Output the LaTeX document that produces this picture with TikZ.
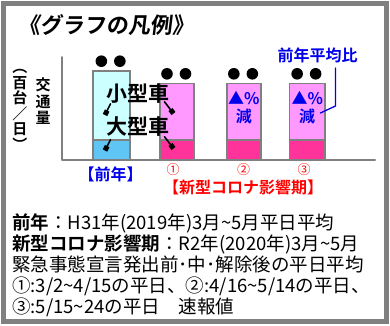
\documentclass[tikz,border=0pt]{standalone}
\usepackage{fontspec}
\setmainfont{Noto Sans CJK JP}[BoldFont={* Bold}]
\newfontfamily\titlefont{Noto Sans CJK JP Bold}[FakeSlant=0.12]
\usetikzlibrary{arrows.meta}
\definecolor{framegray}{RGB}{128,128,128}
\definecolor{paleblue}{RGB}{204,255,255}
\definecolor{midblue}{RGB}{95,197,245}
\definecolor{palepink}{RGB}{255,153,255}
\definecolor{hotpink}{RGB}{255,51,153}
\definecolor{noteblue}{RGB}{0,0,235}
\definecolor{notered}{RGB}{255,0,0}
\newcommand\fsz[1]{\fontsize{#1}{#1}\selectfont}
\tikzset{
  barbox/.style={draw=framegray, line width=1.6pt, line join=miter},
  bigword/.style={font=\bfseries\fsz{21}, inner sep=0pt},
  leader/.style={line width=1.6pt, -{Square[length=5pt,width=5pt]}},
  ratiotext/.style={font=\bfseries\fsz{16}, text=noteblue, inner sep=1pt},
  catlabel/.style={font=\bfseries\fsz{16}},
  numlabel/.style={font=\fsz{13}, text=notered},
}
\begin{document}
\begin{tikzpicture}[x=1pt, y=-1pt, line join=round, line cap=round]
 \useasboundingbox (0,0) rectangle (390,325);
 \draw[framegray, line width=5.5pt, line join=miter] (3.5,3.5) rectangle (386.5,321.5);
 % title
 \node[anchor=west, font=\titlefont\fsz{22}] (title) at (15,25) {《グラフの凡例》};
 % axes
 \draw[framegray, line width=2pt] (62,57) -- (62,160) -- (375,160);
 % bars with dots
 \foreach \xa/\xb/\yt/\up/\lo in {92.7/130/70.7/paleblue/midblue, 160/194/83.3/palepink/hotpink,
   226.7/261/83.3/palepink/hotpink, 289.3/325/83.3/palepink/hotpink}{
   \filldraw[barbox, fill=\up] (\xa,\yt) rectangle (\xb,140);
   \filldraw[barbox, fill=\lo] (\xa,140) rectangle (\xb,160);
   \fill ({(\xa+\xb)/2-10},\yt-9.5) circle (5.8);
   \fill ({(\xa+\xb)/2+8.5},\yt-9.5) circle (5.8);
 }
 % vehicle labels
 \node[bigword] (small) at (137.5,93.3) {小型車};
 \node[bigword] (large) at (137.5,126.7) {大型車};
 \coordinate (smallA) at (105,115);
 \coordinate (smallB) at (173.5,113.5);
 \coordinate (largeA) at (105,150.5);
 \coordinate (largeB) at (173.5,148.5);
 \draw[leader] ([shift={(-27,10.5)}]small.center) -- (smallA);
 \draw[leader] ([shift={(27,8.5)}]small.center) -- (smallB);
 \draw[leader] ([shift={(-27,13)}]large.center) -- (largeA);
 \draw[leader] ([shift={(27,10)}]large.center) -- (largeB);
 % ratio to previous year
 \node[ratiotext] (ratio) at (317.5,55) {前年平均比};
 \node[ratiotext] (pct3) at (243.8,98.3) {▲\%};
 \node[ratiotext] (dec3) at (243.8,116) {減};
 \node[ratiotext] (pct4) at (307.2,98.3) {▲\%};
 \node[ratiotext] (dec4) at (307.2,116) {減};
 \draw[noteblue, line width=1.3pt] ([shift={(18,13)}]ratio.center) -- ++(0,38) -- ([shift={(4,-3)}]dec4.east);
 % category labels
 \node[catlabel, text=noteblue] (prev) at (110.5,174) {【前年】};
 \node[numlabel] (p1) at (173,170) {①};
 \node[numlabel] (p2) at (243.5,170) {②};
 \node[numlabel] (p3) at (304,170) {③};
 \node[catlabel, text=notered] (covid) at (243,187) {【新型コロナ影響期】};
 % vertical axis title
 \node[font=\bfseries\fontsize{15}{16.5}\selectfont, align=center, inner sep=0pt] (ytitle) at (43,101.5) {交\\通\\量};
 \node[font=\bfseries\fontsize{15}{15.5}\selectfont, align=center, inner sep=0pt] (yunit) at (20,110) {︵\\百\\台\\／\\日\\︶};
 % notes
 \node[anchor=west, align=left, font=\fontsize{18.5}{21}\selectfont, inner sep=0pt] (notes) at (12,265)
 {{\bfseries 前年}：H31年(2019年)3月\textasciitilde 5月平日平均\\
  {\bfseries 新型コロナ影響期}：R2年(2020年)3月\textasciitilde 5月\\
  緊急事態宣言発出前･中･解除後の平日平均\\
  ①:3/2\textasciitilde 4/15の平日、②:4/16\textasciitilde 5/14の平日、\\
  ③:5/15\textasciitilde 24の平日　速報値};
\end{tikzpicture}
\end{document}
